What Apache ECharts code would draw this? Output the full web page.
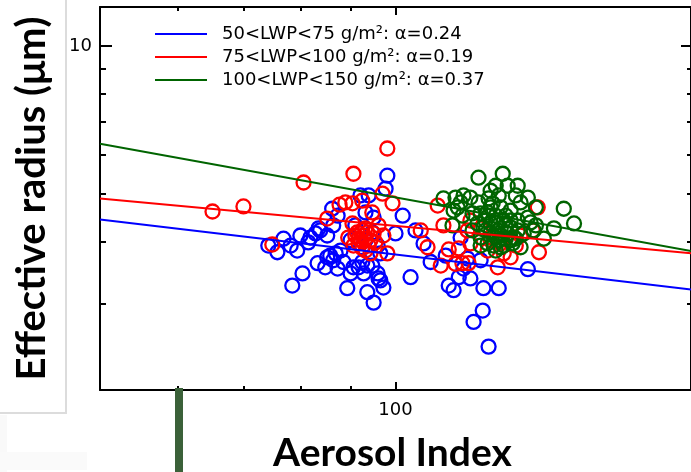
<!DOCTYPE html>
<html>
<head>
<meta charset="utf-8">
<script src="https://cdn.jsdelivr.net/npm/echarts@6/dist/echarts.min.js"></script>
<style>html,body{margin:0;padding:0;background:#fff;}#c{width:691px;height:472px;}</style>
</head>
<body>
<div id="c"></div>
<script>
// ---- data ----
const legendLabels = [
  '50<LWP<75 g/m\u00B2: \u03B1=0.24',
  '75<LWP<100 g/m\u00B2: \u03B1=0.19',
  '100<LWP<150 g/m\u00B2: \u03B1=0.37'
];
const xMajorTicks = [100];
const xMinorTicks = [60, 70, 80, 90];
const yMajorTicks = [10];
const yMinorTicks = [3, 4, 5, 6, 7, 8, 9];

const blueFit = [[50, 4.44], [200, 3.20]];
const redFit = [[50, 4.90], [200, 3.79]];
const greenFit = [[50, 6.33], [200, 3.83]];

const bluePoints = [
[74.2,3.93],[75.8,3.81],[76.9,4.06],[78.2,3.93],[79.4,3.84],[80.0,4.12],[81.5,3.99],[82.9,4.16],
[83.8,4.22],[85.2,4.12],[86.2,4.67],[87.3,4.52],[86.4,4.32],[83.5,4.26],[81.9,4.08],[80.4,3.45],
[78.5,3.26],[83.3,3.62],[84.8,3.55],[85.8,3.75],[86.4,3.67],[87.3,3.53],[85.2,3.72],[87.9,3.84],
[86.9,3.79],[88.5,3.64],[90.0,3.45],[89.3,3.22],[90.6,3.55],[91.7,3.55],[92.5,3.64],[92.8,3.45],
[93.6,3.58],[94.7,3.58],[95.9,3.45],[96.1,3.37],[96.5,3.34],[97.2,3.23],[93.6,3.16],[95.0,3.01],
[98.1,5.45],[97.7,5.13],[92.1,4.97],[93.9,4.97],[93.2,4.59],[95.0,4.48],[91.0,4.32],[92.5,3.90],
[95.9,3.93],[96.5,3.79],[100.0,4.16],[101.7,4.52],[104.8,4.22],[106.8,3.97],[103.6,3.39],[108.6,3.64],
[113.3,3.26],[114.6,3.19],[116.0,3.39],[117.3,3.53],[119.2,3.37],[122.1,3.67],[122.9,3.22],[127.4,3.22],
[122.7,2.90],[120.1,2.75],[124.4,2.45],[112.5,3.75],[136.4,3.52],[116.5,4.08],[118.4,3.70],[90.0,4.03],
[93.2,4.03],[94.7,4.18]
];
const redPoints = [
[65.1,4.61],[70.0,4.72],[80.6,5.28],[85.2,4.46],[87.7,4.76],[74.9,3.95],[90.6,5.50],[98.1,6.19],
[88.9,4.81],[90.4,4.79],[92.5,4.85],[97.0,5.01],[99.3,4.79],[90.4,4.36],[93.2,4.26],[94.7,4.59],
[96.1,4.32],[110.4,4.74],[97.2,4.12],[89.5,4.08],[90.6,3.93],[92.5,4.22],[93.2,4.06],[94.3,3.79],
[98.1,3.79],[106.1,4.22],[107.8,3.90],[92.8,4.12],[95.0,4.16],[91.7,3.97],[111.2,3.58],[116.0,3.88],
[117.0,3.62],[118.7,3.62],[119.2,3.97],[127.1,3.55],[124.1,3.84],[128.9,3.79],[111.9,4.32],[119.2,4.42],
[118.4,4.22],[131.0,3.72],[139.6,4.70],[140.0,3.81],[128.0,3.97],[138.0,4.22],[122.1,4.26],[115.1,3.61],
[113.3,3.86],[92.1,4.03],[93.9,3.93],[91.4,4.18],[95.4,3.99],[125.0,4.03],[132.6,3.93],[134.1,4.12],
[91.7,4.06],[93.6,4.18],[92.5,3.88],[91.0,4.12],[94.3,4.03],[93.2,3.84]
];
const greenPoints = [
[121.5,5.40],[128.6,5.50],[111.9,4.90],[114.3,4.32],[115.1,4.92],[117.3,4.97],[119.2,4.92],[121.5,4.81],
[114.6,4.63],[117.0,4.52],[119.8,4.57],[125.0,5.08],[126.5,5.20],[130.1,5.20],[133.2,5.20],[132.6,4.97],
[136.4,4.92],[139.0,4.70],[148.4,4.67],[152.0,4.36],[145.0,4.26],[141.6,4.06],[138.3,4.22],[124.1,3.97],
[128.0,3.90],[131.6,3.97],[134.1,3.90],[135.1,4.16],[125.0,4.36],[127.1,4.22],[128.9,4.42],[131.0,4.63],
[128.0,4.70],[125.0,4.70],[122.9,4.28],[122.1,4.57],[131.0,4.28],[133.2,4.42],[134.1,4.81],[127.4,4.97],
[124.4,4.90],[121.2,4.36],[119.8,4.22],[122.1,4.08],[126.5,4.08],[130.1,4.16],[132.0,4.08],[136.4,4.48],
[137.3,4.38],[124.1,4.59],[139.0,4.32],[116.5,4.81],[115.7,4.70],[126.5,4.52],[129.5,4.32],[123.5,4.22],
[128.0,4.12],[125.6,4.79],[131.0,4.03],[133.2,4.22],[128.9,3.93],[126.5,3.84],
[123.5,4.42],[126.5,4.38],[129.5,4.52],[128.0,4.26],[125.0,4.18],[131.0,4.42],[132.6,4.06],[127.4,4.03],
[124.4,4.52],[129.5,4.06],[125.9,3.93],[122.1,3.93]
];

// ---- chart ----
const BLUE = '#0000ff', RED = '#ff0000', GREEN = '#006400';
const smallFont = 'DejaVu Sans';

function xAx(pos, ticks, len, withLine, withLabel) {
  const a = {
    type: 'log', logBase: 10, min: 50, max: 200, gridIndex: 0, position: pos,
    splitLine: { show: false },
    axisLine: { show: withLine, lineStyle: { color: '#000', width: 2 } },
    axisTick: { show: true, inside: true, length: len, customValues: ticks, lineStyle: { color: '#000', width: 2 } },
    axisLabel: { show: false },
    nameMoveOverlap: false
  };
  if (withLabel) {
    a.axisLabel = { show: true, customValues: xMajorTicks, formatter: v => String(Math.round(v)), margin: 11,
      fontFamily: smallFont, fontSize: 18, color: '#000' };
    a.name = 'Aerosol Index';
    a.nameLocation = 'middle';
    a.nameGap = 44;
    a.nameTextStyle = { fontFamily: 'Lato', fontWeight: 'bold', fontSize: 39, color: '#000', padding: [0, 6, 0, 0] };
  }
  return a;
}
function yAx(pos, ticks, len, withLine, withLabel) {
  const a = {
    type: 'log', logBase: 10, min: 2, max: 12, gridIndex: 0, position: pos,
    splitLine: { show: false },
    axisLine: { show: withLine, lineStyle: { color: '#000', width: 2 } },
    axisTick: { show: true, inside: true, length: len, customValues: ticks, lineStyle: { color: '#000', width: 2 } },
    axisLabel: { show: false },
    nameMoveOverlap: false
  };
  if (withLabel) {
    a.axisLabel = { show: true, customValues: yMajorTicks, formatter: v => String(Math.round(v)), margin: 8,
      fontFamily: smallFont, fontSize: 18, color: '#000' };
    a.name = 'Effective radius (\u03BCm)';
    a.nameLocation = 'middle';
    a.nameGap = 48;
    a.nameTextStyle = { fontFamily: 'Lato', fontWeight: 'bold', fontSize: 40, color: '#000' };
  }
  return a;
}

function scatter(name, data, color) {
  return {
    type: 'scatter', name: name, data: data, xAxisIndex: 0, yAxisIndex: 0,
    symbol: 'circle', symbolSize: 14, z: 2,
    itemStyle: { color: 'rgba(0,0,0,0)', borderColor: color, borderWidth: 2.3, opacity: 1 },
    emphasis: { disabled: true }
  };
}
function fit(name, data, color) {
  return {
    type: 'line', name: name, data: data, xAxisIndex: 0, yAxisIndex: 0,
    showSymbol: false, symbol: 'none', z: 3, color: color,
    lineStyle: { color: color, width: 2 }, itemStyle: { color: color },
    emphasis: { disabled: true }
  };
}

const chart = echarts.init(document.getElementById('c'), null, { renderer: 'canvas' });
chart.setOption({
  animation: false,
  backgroundColor: '#ffffff',
  grid: { left: 100, right: 0, top: 7, bottom: 82, containLabel: false, outerBoundsMode: 'none' },
  xAxis: [
    xAx('bottom', xMajorTicks, 8, true, true),
    xAx('bottom', xMinorTicks, 4, false, false),
    xAx('top', xMajorTicks, 8, true, false),
    xAx('top', xMinorTicks, 4, false, false)
  ],
  yAxis: [
    yAx('left', yMajorTicks, 12, true, true),
    yAx('left', yMinorTicks, 6, false, false),
    yAx('right', yMajorTicks, 10, true, false),
    yAx('right', yMinorTicks, 4, false, false)
  ],
  legend: {
    orient: 'vertical', left: 150, top: 20, itemWidth: 52, itemHeight: 2, itemGap: 5,
    icon: 'rect', selectedMode: false,
    textStyle: { fontFamily: smallFont, fontSize: 18, color: '#000', lineHeight: 18, padding: [0, 0, 0, 10] },
    data: legendLabels
  },
  series: [
    scatter('blue points', bluePoints, BLUE),
    scatter('red points', redPoints, RED),
    scatter('green points', greenPoints, GREEN),
    fit(legendLabels[0], blueFit, BLUE),
    fit(legendLabels[1], redFit, RED),
    fit(legendLabels[2], greenFit, GREEN)
  ],
  graphic: [
    { type: 'rect', left: 0, top: 415, shape: { width: 7, height: 57 }, style: { fill: '#f9f9f9' }, silent: true },
    { type: 'rect', left: 0, top: 452, shape: { width: 87, height: 18 }, style: { fill: '#fafafa' }, silent: true },
    { type: 'line', shape: { x1: 66, y1: 0, x2: 66, y2: 413 }, style: { stroke: '#dcdcdc', lineWidth: 2 }, silent: true },
    { type: 'line', shape: { x1: 0, y1: 413, x2: 67, y2: 413 }, style: { stroke: '#dcdcdc', lineWidth: 2 }, silent: true },
    { type: 'rect', left: 175, top: 388, shape: { width: 8, height: 84 }, style: { fill: '#3b6139' }, silent: true, z: 10 }
  ]
});
</script>
</body>
</html>
